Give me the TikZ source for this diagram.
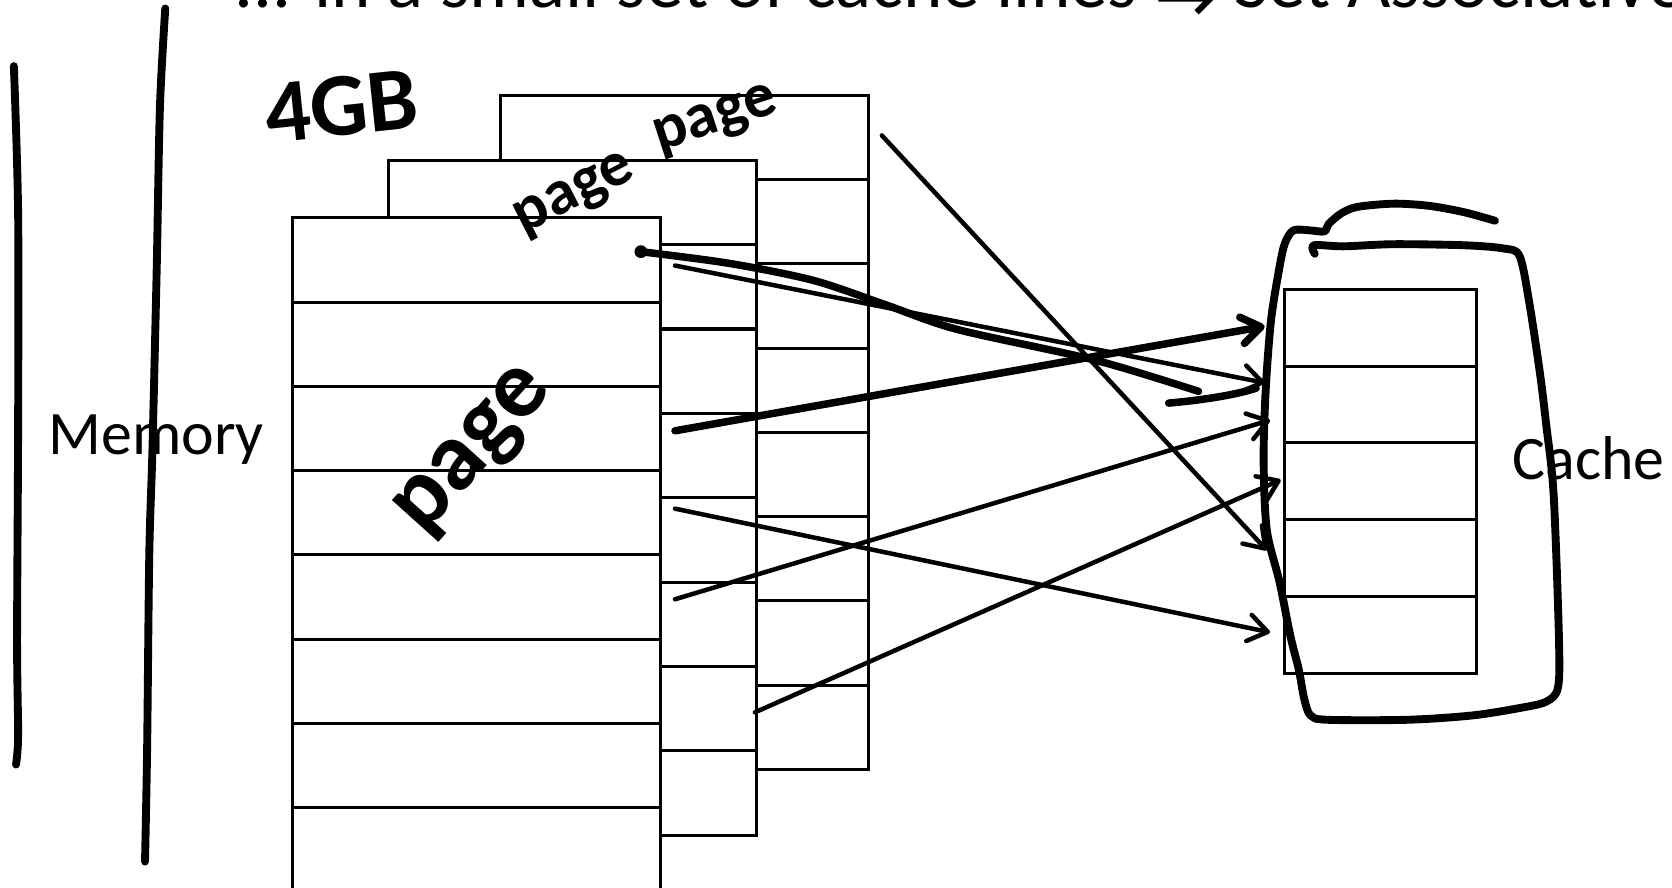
\documentclass[tikz,border=0pt]{standalone}
\usepackage{fontspec}
\setmainfont{Carlito}
\newfontfamily\symbfont{DejaVu Sans}
\usepackage{tikz}
\usetikzlibrary{positioning,arrows.meta}

\begin{document}
\begin{tikzpicture}[
  x=0.2mm, y=-0.2mm,
  memrow/.style={
    rectangle, draw, fill=white, line width=1.6pt,
    minimum width=6.9cm, minimum height=1.58cm,
    inner sep=0pt, anchor=north west
  },
  cacherow/.style={
    rectangle, draw, line width=1.6pt,
    minimum width=3.6cm, minimum height=1.44cm,
    inner sep=0pt, anchor=north west
  },
  slide/.style={font=\fontsize{33}{40}\selectfont, inner sep=0pt},
  scrawl/.style={font=\fontsize{40}{48}\selectfont\bfseries, inner sep=0pt},
  ink/.style={line width=4.2pt, line cap=round, line join=round},
  link/.style={-{Straight Barb[length=3.6mm,width=5mm,round]},
    line width=2.4pt, line cap=round},
  boldlink/.style={link, line width=4pt}
]
\useasboundingbox (0,0) rectangle (1568,832);
\clip (0,0) rectangle (1568,832);

% Title (cut off at the top)
\node[slide, font=\fontsize{40}{48}\selectfont, anchor=base west] (title) at (220,7)
  {... in a small set of cache lines \raisebox{-0.2em}{\symbfont →} Set Associative};

% Memory pages, back to front
\foreach \i in {1,...,8}
  \node[memrow] (B\i) at (468, {88+79*(\i-1)}) {};
\foreach \i in {1,...,8}
  \node[memrow] (M\i) at (363, {149+79.1*(\i-1)}) {};
\foreach \i in {1,...,8}
  \node[memrow] (F\i) at (273, {203+79*(\i-1)}) {};

% Cache lines
\foreach \i in {1,...,5}
  \node[cacherow] (C\i) at (1203, {270+72*(\i-1)}) {};

% Labels
\node[slide, anchor=base west] (mem) at (45,426) {Memory};
\node[slide, anchor=base west] (cache) at (1418,450) {Cache};

% Handwritten notes
\node[scrawl, font=\fontsize{48}{56}\selectfont\bfseries, rotate=6] (size) at (320,100) {4GB};
\node[scrawl, font=\fontsize{34}{40}\selectfont\bfseries, rotate=18] (pg3) at (672,114) {page};
\node[scrawl, font=\fontsize{34}{40}\selectfont\bfseries, rotate=27] (pg2) at (540,184) {page};
\node[scrawl, font=\fontsize{52}{60}\selectfont\bfseries, rotate=48] (pg1) at (447,425) {page};

% Brackets on the left
\draw[ink] plot[smooth] coordinates {(13,62) (17,200) (17,400) (16,600) (17,690) (15,717)};
\draw[ink] plot[smooth] coordinates {(155,8) (150,100) (147,250) (143,420) (140,520) (138,700) (136,808)};

% Cache outline
\draw[ink] plot[smooth, tension=0.5] coordinates {
  (1402,207) (1373,199) (1340,193) (1307,191) (1273,194) (1258,200)
  (1246,210) (1242,217) (1228,216) (1213,216) (1205,228) (1200,250)
  (1192,300) (1187,365) (1185,431) (1188,497) (1200,546) (1210,596)
  (1218,628) (1223,655) (1229,671) (1245,675) (1320,675) (1380,671)
  (1425,664) (1450,658) (1461,645) (1462,600) (1457,464) (1450,398)
  (1444,349) (1434,283) (1425,240) (1410,233) (1373,230) (1307,229)
  (1260,231) (1232,230) (1233,238)};

% Arrow end points
\coordinate (s1) at (601,236);
\coordinate (s2) at (633,249);  \coordinate (t2) at (1186,359);
\coordinate (s3) at (633,404);  \coordinate (t3) at (1186,306);
\coordinate (s4) at (827,127);  \coordinate (t4) at (1188,516);
\coordinate (s5) at (633,562);  \coordinate (t5) at (1191,394);
\coordinate (s6) at (633,477);  \coordinate (t6) at (1191,593);
\coordinate (s7) at (708,668);  \coordinate (t7) at (1201,450);
\coordinate (h1) at (1096,378); \coordinate (h2) at (1178,364);

% Mapping arrows
\fill (s1) circle (6);
\draw[ink, line width=4pt] plot[smooth] coordinates {(s1) (684,247) (763,263) (831,286) (898,309) (1028,338) (1124,367)};
\draw[ink, line width=4pt] (h1) .. controls (1130,375) and (1160,370) .. (h2);
\draw[link] (s2) -- (t2);
\draw[boldlink] (s3) -- (t3);
\draw[link] (s4) -- (t4);
\draw[link] (s5) -- (t5);
\draw[link] (s6) -- (t6);
\draw[link] (s7) -- (t7);

\end{tikzpicture}
\end{document}
